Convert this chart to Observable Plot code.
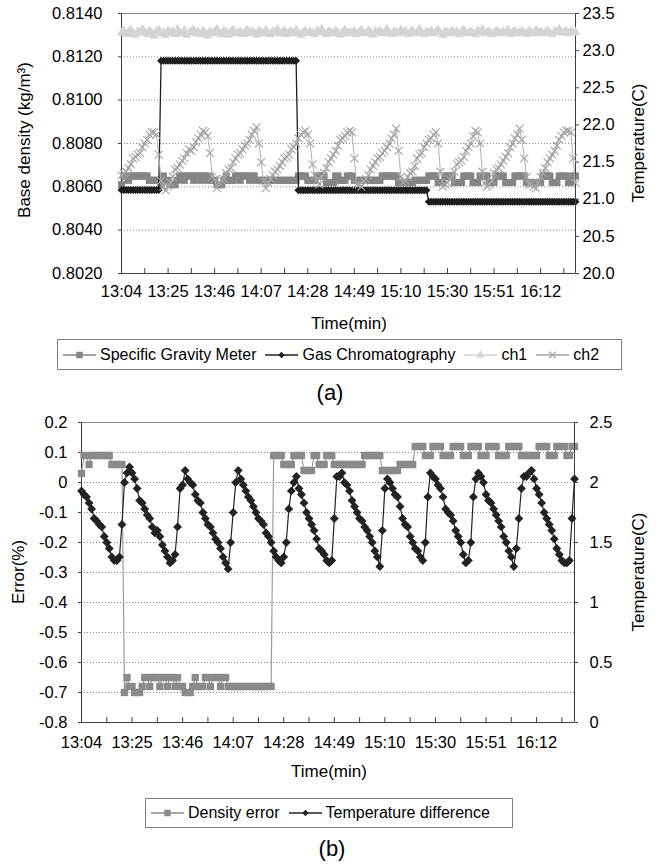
<!DOCTYPE html>
<html><head><meta charset="utf-8">
<script src="https://cdn.jsdelivr.net/npm/d3@7"></script>
<script src="https://cdn.jsdelivr.net/npm/@observablehq/plot@0.6"></script>
<style>
body{margin:0;background:#fff;font-family:"Liberation Sans",Arial,sans-serif;color:#000}
#wrap{position:relative;width:663px;height:867px;overflow:hidden;background:#fff}
.layer{position:absolute;left:0}
.rot{position:absolute;transform:translate(-50%,-50%) rotate(-90deg);white-space:nowrap;font-size:17px}
.ctr{position:absolute;transform:translate(-50%,-50%);white-space:nowrap;font-size:17px}
.legend{position:absolute;border:1px solid #7f7f7f;display:flex;align-items:center;box-sizing:border-box;font-size:16px;padding-left:5px;background:#fff}
.legend .it{display:flex;align-items:center;margin-right:9px;white-space:nowrap}
.legend svg{margin-right:4px;display:block}
</style></head><body><div id="wrap"></div>
<script>
// ---------- data (index = sample number, about one per minute from 13:04) ----------
const timeLabels = ["13:04","13:25","13:46","14:07","14:28","14:49","15:10","15:30","15:51","16:12"];
const labelIdx = [0,20,40,60,80,100,120,140,160,180];
const minorIdx = [0,10,20,30,40,50,60,70,80,90,100,110,120,130,140,150,160,170,180,190];
const densityTicks = [0.8020,0.8040,0.8060,0.8080,0.8100,0.8120,0.8140];
const tempTicksA = [20.0,20.5,21.0,21.5,22.0,22.5,23.0,23.5];
const errTicks = [-0.8,-0.7,-0.6,-0.5,-0.4,-0.3,-0.2,-0.1,0,0.1,0.2];
const tempTicksB = [0,0.5,1,1.5,2,2.5];

// Specific Gravity Meter (kg/m3)
const sgm = [
0.8061,0.8065,0.8065,0.8063,0.8065,0.8065,0.8065,0.8065,0.8065,0.8065,
0.8065,0.8065,0.8063,0.8063,0.8063,0.8063,0.8063,0.8061,0.8065,0.8063,
0.8063,0.8061,0.8061,0.8061,0.8063,0.8065,0.8065,0.8063,0.8065,0.8065,
0.8065,0.8063,0.8065,0.8065,0.8063,0.8065,0.8065,0.8063,0.8065,0.8063,
0.8063,0.8061,0.8061,0.8061,0.8063,0.8065,0.8063,0.8063,0.8063,0.8065,
0.8065,0.8063,0.8065,0.8065,0.8065,0.8063,0.8065,0.8065,0.8063,0.8063,
0.8063,0.8063,0.8063,0.8063,0.8063,0.8063,0.8063,0.8063,0.8063,0.8063,
0.8063,0.8063,0.8063,0.8063,0.8063,0.8063,0.8065,0.8065,0.8065,0.8065,
0.8063,0.8063,0.8063,0.8063,0.8065,0.8065,0.8065,0.8065,0.8062,0.8062,
0.8062,0.8062,0.8065,0.8065,0.8063,0.8063,0.8063,0.8065,0.8065,0.8065,
0.8063,0.8063,0.8063,0.8063,0.8063,0.8063,0.8063,0.8063,0.8063,0.8063,
0.8063,0.8063,0.8065,0.8065,0.8065,0.8065,0.8065,0.8065,0.8065,0.8062,
0.8062,0.8062,0.8062,0.8062,0.8062,0.8062,0.8063,0.8063,0.8063,0.8063,
0.8063,0.8063,0.8065,0.8065,0.8065,0.8065,0.8062,0.8062,0.8062,0.8065,
0.8065,0.8065,0.8065,0.8062,0.8062,0.8062,0.8062,0.8065,0.8065,0.8065,
0.8065,0.8062,0.8062,0.8062,0.8065,0.8065,0.8065,0.8065,0.8062,0.8062,
0.8062,0.8065,0.8065,0.8065,0.8065,0.8062,0.8062,0.8062,0.8062,0.8065,
0.8065,0.8065,0.8065,0.8065,0.8062,0.8062,0.8062,0.8062,0.8062,0.8062,
0.8062,0.8065,0.8065,0.8065,0.8065,0.8062,0.8062,0.8062,0.8065,0.8065,
0.8065,0.8065,0.8062,0.8062,0.8065,0.8065];

// Gas Chromatography (kg/m3)
const gc = [
0.80585,0.80585,0.80585,0.80585,0.80585,0.80585,0.80585,0.80585,0.80585,0.80585,
0.80585,0.80585,0.80585,0.80585,0.80585,0.80585,0.80585,0.81182,0.81182,0.81182,
0.81182,0.81182,0.81182,0.81182,0.81182,0.81182,0.81182,0.81182,0.81182,0.81182,
0.81182,0.81182,0.81182,0.81182,0.81182,0.81182,0.81182,0.81182,0.81182,0.81182,
0.81182,0.81182,0.81182,0.81182,0.81182,0.81182,0.81182,0.81182,0.81182,0.81182,
0.81182,0.81182,0.81182,0.81182,0.81182,0.81182,0.81182,0.81182,0.81182,0.81182,
0.81182,0.81182,0.81182,0.81182,0.81182,0.81182,0.81182,0.81182,0.81182,0.81182,
0.81182,0.81182,0.81182,0.81182,0.81182,0.81182,0.80584,0.80584,0.80584,0.80584,
0.80584,0.80584,0.80584,0.80584,0.80584,0.80584,0.80584,0.80584,0.80584,0.80584,
0.80584,0.80584,0.80584,0.80584,0.80584,0.80584,0.80584,0.80584,0.80584,0.80584,
0.80584,0.80584,0.80584,0.80584,0.80584,0.80584,0.80584,0.80584,0.80584,0.80584,
0.80584,0.80584,0.80584,0.80584,0.80584,0.80584,0.80584,0.80584,0.80584,0.80584,
0.80584,0.80584,0.80584,0.80584,0.80584,0.80584,0.80584,0.80584,0.80584,0.80584,
0.80584,0.80584,0.80531,0.80531,0.80531,0.80531,0.80531,0.80531,0.80531,0.80531,
0.80531,0.80531,0.80531,0.80531,0.80531,0.80531,0.80531,0.80531,0.80531,0.80531,
0.80531,0.80531,0.80531,0.80531,0.80531,0.80531,0.80531,0.80531,0.80531,0.80531,
0.80531,0.80531,0.80531,0.80531,0.80531,0.80531,0.80531,0.80531,0.80531,0.80531,
0.80531,0.80531,0.80531,0.80531,0.80531,0.80531,0.80531,0.80531,0.80531,0.80531,
0.80531,0.80531,0.80531,0.80531,0.80531,0.80531,0.80531,0.80531,0.80531,0.80531,
0.80531,0.80531,0.80531,0.80531,0.80531,0.80531];

// ch1 temperature (C)
const ch1 = [
23.24,23.27,23.22,23.25,23.28,23.23,23.21,23.26,23.24,23.29,
23.25,23.22,23.27,23.24,23.20,23.26,23.28,23.23,23.25,23.21,
23.27,23.24,23.26,23.22,23.29,23.25,23.23,23.27,23.21,23.24,
23.26,23.28,23.23,23.25,23.22,23.27,23.24,23.20,23.26,23.23,
23.25,23.29,23.24,23.22,23.27,23.25,23.21,23.26,23.28,23.23,
23.24,23.26,23.22,23.25,23.28,23.23,23.26,23.24,23.21,23.27,
23.25,23.23,23.28,23.24,23.22,23.26,23.25,23.29,23.23,23.24,
23.27,23.22,23.25,23.26,23.23,23.28,23.24,23.21,23.25,23.27,
23.23,23.26,23.24,23.22,23.27,23.25,23.29,23.24,23.22,23.26,
23.25,23.23,23.27,23.24,23.21,23.26,23.28,23.23,23.25,23.24,
23.26,23.22,23.25,23.28,23.24,23.23,23.27,23.25,23.21,23.26,
23.24,23.27,23.23,23.25,23.29,23.24,23.22,23.26,23.25,23.23,
23.28,23.24,23.26,23.22,23.25,23.27,23.23,23.24,23.29,23.25,
23.22,23.26,23.24,23.27,23.23,23.25,23.28,23.24,23.21,23.26,
23.25,23.23,23.27,23.24,23.26,23.22,23.25,23.28,23.24,23.23,
23.26,23.24,23.22,23.27,23.25,23.29,23.23,23.25,23.26,23.22,
23.24,23.27,23.25,23.23,23.26,23.24,23.28,23.22,23.25,23.27,
23.23,23.25,23.26,23.24,23.22,23.27,23.25,23.23,23.28,23.24,
23.26,23.23,23.25,23.27,23.24,23.22,23.26,23.25,23.29,23.24,
23.25,23.27,23.23,23.26,23.24,23.25];

// ch2 temperature (C)
const ch2 = [
21.32,21.35,21.37,21.42,21.47,21.55,21.57,21.60,21.62,21.70,
21.75,21.80,21.87,21.90,21.90,21.87,21.60,21.25,21.17,21.12,
21.17,21.22,21.30,21.40,21.42,21.47,21.52,21.55,21.62,21.67,
21.65,21.70,21.77,21.82,21.87,21.92,21.90,21.85,21.62,21.30,
21.27,21.15,21.22,21.25,21.27,21.35,21.40,21.42,21.50,21.55,
21.60,21.62,21.67,21.72,21.75,21.80,21.87,21.92,21.97,21.75,
21.50,21.25,21.15,21.22,21.27,21.32,21.37,21.40,21.45,21.50,
21.55,21.57,21.60,21.67,21.70,21.75,21.82,21.87,21.90,21.92,
21.87,21.75,21.47,21.32,21.25,21.20,21.30,21.35,21.42,21.50,
21.55,21.60,21.65,21.72,21.80,21.82,21.85,21.90,21.92,21.90,
21.55,21.20,21.20,21.17,21.25,21.27,21.32,21.40,21.45,21.50,
21.55,21.57,21.62,21.65,21.70,21.75,21.82,21.87,21.95,21.65,
21.30,21.22,21.25,21.30,21.35,21.37,21.45,21.55,21.60,21.62,
21.70,21.75,21.80,21.82,21.87,21.90,21.75,21.37,21.17,21.20,
21.22,21.27,21.30,21.37,21.47,21.50,21.52,21.57,21.65,21.70,
21.75,21.85,21.92,21.90,21.75,21.37,21.22,21.17,21.20,21.25,
21.35,21.40,21.42,21.47,21.52,21.57,21.62,21.70,21.75,21.82,
21.87,21.95,21.80,21.55,21.30,21.20,21.20,21.17,21.15,21.22,
21.30,21.35,21.42,21.50,21.55,21.60,21.65,21.72,21.80,21.85,
21.90,21.92,21.92,21.90,21.55,21.22];

// Density error (%)
const densErr = [
0.03,0.09,0.09,0.06,0.09,0.09,0.09,0.09,0.09,0.09,
0.09,0.09,0.06,0.06,0.06,0.06,0.06,-0.70,-0.65,-0.68,
-0.68,-0.70,-0.70,-0.70,-0.68,-0.65,-0.65,-0.68,-0.65,-0.65,
-0.65,-0.68,-0.65,-0.65,-0.68,-0.65,-0.65,-0.68,-0.65,-0.68,
-0.68,-0.70,-0.70,-0.70,-0.68,-0.65,-0.68,-0.68,-0.68,-0.65,
-0.65,-0.68,-0.65,-0.65,-0.65,-0.68,-0.65,-0.65,-0.68,-0.68,
-0.68,-0.68,-0.68,-0.68,-0.68,-0.68,-0.68,-0.68,-0.68,-0.68,
-0.68,-0.68,-0.68,-0.68,-0.68,-0.68,0.09,0.09,0.09,0.09,
0.06,0.06,0.06,0.06,0.09,0.09,0.09,0.09,0.04,0.04,
0.04,0.04,0.09,0.09,0.06,0.06,0.06,0.09,0.09,0.09,
0.06,0.06,0.06,0.06,0.06,0.06,0.06,0.06,0.06,0.06,
0.06,0.06,0.09,0.09,0.09,0.09,0.09,0.09,0.09,0.04,
0.04,0.04,0.04,0.04,0.04,0.04,0.06,0.06,0.06,0.06,
0.06,0.06,0.12,0.12,0.12,0.12,0.09,0.09,0.09,0.12,
0.12,0.12,0.12,0.09,0.09,0.09,0.09,0.12,0.12,0.12,
0.12,0.09,0.09,0.09,0.12,0.12,0.12,0.12,0.09,0.09,
0.09,0.12,0.12,0.12,0.12,0.09,0.09,0.09,0.09,0.12,
0.12,0.12,0.12,0.12,0.09,0.09,0.09,0.09,0.09,0.09,
0.09,0.12,0.12,0.12,0.12,0.09,0.09,0.09,0.12,0.12,
0.12,0.12,0.09,0.09,0.12,0.12];

// Temperature difference (C)
const tempDiff = [
1.93,1.90,1.88,1.83,1.78,1.70,1.68,1.65,1.63,1.55,
1.50,1.45,1.38,1.35,1.35,1.38,1.65,2.00,2.08,2.13,
2.08,2.03,1.95,1.85,1.83,1.78,1.73,1.70,1.63,1.58,
1.60,1.55,1.48,1.43,1.38,1.33,1.35,1.40,1.63,1.95,
1.98,2.10,2.03,2.00,1.98,1.90,1.85,1.83,1.75,1.70,
1.65,1.63,1.58,1.53,1.50,1.45,1.38,1.33,1.28,1.50,
1.75,2.00,2.10,2.03,1.98,1.93,1.88,1.85,1.80,1.75,
1.70,1.68,1.65,1.58,1.55,1.50,1.43,1.38,1.35,1.33,
1.38,1.50,1.78,1.93,2.00,2.05,1.95,1.90,1.83,1.75,
1.70,1.65,1.60,1.53,1.45,1.43,1.40,1.35,1.33,1.35,
1.70,2.05,2.05,2.08,2.00,1.98,1.93,1.85,1.80,1.75,
1.70,1.68,1.63,1.60,1.55,1.50,1.43,1.38,1.30,1.60,
1.95,2.03,2.00,1.95,1.90,1.88,1.80,1.70,1.65,1.63,
1.55,1.50,1.45,1.43,1.38,1.35,1.50,1.88,2.08,2.05,
2.03,1.98,1.95,1.88,1.78,1.75,1.73,1.68,1.60,1.55,
1.50,1.40,1.33,1.35,1.50,1.88,2.03,2.08,2.05,2.00,
1.90,1.85,1.83,1.78,1.73,1.68,1.63,1.55,1.50,1.43,
1.38,1.30,1.45,1.70,1.95,2.05,2.05,2.08,2.10,2.03,
1.95,1.90,1.83,1.75,1.70,1.65,1.60,1.53,1.45,1.40,
1.35,1.33,1.33,1.35,1.70,2.03];

// ---------- build ----------
const rows = sgm.map((v, i) => ({i, sgm: v, gc: gc[i], ch1: ch1[i], ch2: ch2[i], err: densErr[i], dT: tempDiff[i]}));
const N = rows.length - 1;
const FONT = '"Liberation Sans", Arial, sans-serif';
const AX = "#404040";
const C = {sgm: "#858585", gc: "#1e1e1e", ch1: "#d4d4d4", ch2: "#a4a4a4", err: "#8a8a8a", errLine: "#9c9c9c", dT: "#222222"};
const wrap = document.getElementById("wrap");
const sty = {fontFamily: FONT, fontSize: "16.5px", background: "transparent", color: "#000", overflow: "visible"};

function place(node, top) {
  const d = document.createElement("div");
  d.className = "layer"; d.style.top = top + "px";
  d.appendChild(node); wrap.appendChild(d);
}
function text(cls, str, x, y, extra) {
  const d = document.createElement("div");
  d.className = cls; d.textContent = str;
  d.style.left = x + "px"; d.style.top = y + "px";
  if (extra) Object.assign(d.style, extra);
  wrap.appendChild(d);
}

// ---- chart (a) ----
const A = {width: 663, height: 300, marginTop: 13, marginBottom: 27, marginLeft: 121, marginRight: 88};
const topA = Plot.plot({
  ...A, style: sty,
  x: {domain: [0, N]}, y: {domain: [0.802, 0.814]},
  marks: [
    Plot.gridY(densityTicks.slice(1, -1), {stroke: "#8a8a8a", strokeOpacity: 1, strokeDasharray: "1,2"}),
    Plot.frame({stroke: "#8c8c8c"}),
    Plot.ruleX([0], {stroke: AX}),
    Plot.ruleY([0.802], {stroke: AX}),
    Plot.tickX(minorIdx, {x: d => d, insetTop: 255, stroke: AX}),
    Plot.axisY(densityTicks, {anchor: "left", tickSize: 3, tickPadding: 16, stroke: AX, tickFormat: d => d.toFixed(4), label: null}),
    Plot.axisX(labelIdx, {anchor: "bottom", tickSize: 0, tickPadding: 12, tickFormat: d => timeLabels[labelIdx.indexOf(d)], label: null}),
    Plot.line(rows, {x: "i", y: "sgm", stroke: C.sgm, strokeWidth: 1.2}),
    Plot.dot(rows, {x: "i", y: "sgm", symbol: "square", r: 4, fill: C.sgm, stroke: "none"}),
    Plot.line(rows, {x: "i", y: "gc", stroke: C.gc, strokeWidth: 1.3}),
    Plot.dot(rows, {x: "i", y: "gc", symbol: "diamond2", r: 3.6, fill: C.gc, stroke: "none"})
  ]
});
const topB = Plot.plot({
  ...A, style: sty,
  x: {domain: [0, N], axis: null}, y: {domain: [20, 23.5]},
  marks: [
    Plot.ruleX([N], {stroke: AX}),
    Plot.axisY(tempTicksA, {anchor: "right", tickSize: 3, tickPadding: 4, stroke: AX, tickFormat: d => d.toFixed(1), label: null}),
    Plot.line(rows, {x: "i", y: "ch1", stroke: C.ch1, strokeWidth: 1}),
    Plot.dot(rows, {x: "i", y: "ch1", symbol: "triangle", r: 3.4, fill: C.ch1, stroke: "none"}),
    Plot.line(rows, {x: "i", y: "ch2", stroke: "#b0b0b0", strokeWidth: 1}),
    Plot.dot(rows, {x: "i", y: "ch2", symbol: "times", r: 3.7, stroke: C.ch2, strokeWidth: 1.1, fill: "none"})
  ]
});
place(topA, 0); place(topB, 0);

// ---- chart (b) ----
const B = {width: 663, height: 343, marginTop: 13, marginBottom: 30, marginLeft: 81, marginRight: 89};
const botA = Plot.plot({
  ...B, style: sty,
  x: {domain: [0, N]}, y: {domain: [-0.8, 0.2]},
  marks: [
    Plot.gridY(errTicks.slice(1, -1), {stroke: "#8a8a8a", strokeOpacity: 1, strokeDasharray: "1,2"}),
    Plot.frame({stroke: "#8c8c8c"}),
    Plot.ruleX([0], {stroke: AX}),
    Plot.ruleY([-0.8], {stroke: AX}),
    Plot.tickX(minorIdx, {x: d => d, insetTop: 295, stroke: AX}),
    Plot.axisY(errTicks, {anchor: "left", tickSize: 3, tickPadding: 11, stroke: AX, tickFormat: d => d === 0 ? "0" : d.toFixed(1), label: null}),
    Plot.axisX(labelIdx, {anchor: "bottom", tickSize: 0, tickPadding: 14, tickFormat: d => timeLabels[labelIdx.indexOf(d)], label: null}),
    Plot.line(rows, {x: "i", y: "err", stroke: C.errLine, strokeWidth: 1.2}),
    Plot.dot(rows, {x: "i", y: "err", symbol: "square", r: 4.1, fill: C.err, stroke: "none"})
  ]
});
const botB = Plot.plot({
  ...B, style: sty,
  x: {domain: [0, N], axis: null}, y: {domain: [0, 2.5]},
  marks: [
    Plot.ruleX([N], {stroke: AX}),
    Plot.axisY(tempTicksB, {anchor: "right", tickSize: 3, tickPadding: 12, stroke: AX, tickFormat: d => String(d), label: null}),
    Plot.line(rows, {x: "i", y: "dT", stroke: C.dT, strokeWidth: 1.2}),
    Plot.dot(rows, {x: "i", y: "dT", symbol: "diamond2", r: 4, fill: C.dT, stroke: "none"})
  ]
});
place(botA, 409); place(botB, 409);

// ---- titles ----
text("rot", "Base density (kg/m³)", 25, 140);
text("rot", "Temperature(C)", 639, 143);
text("ctr", "Time(min)", 349, 324);
text("ctr", "(a)", 330, 393, {fontSize: "22px"});
text("rot", "Error(%)", 19, 572);
text("rot", "Temperature(C)", 639, 572);
text("ctr", "Time(min)", 329, 772);
text("ctr", "(b)", 332, 849, {fontSize: "22px"});

// ---- legends ----
function glyph(color, type, size, strokeSym) {
  const svg = d3.create("svg").attr("width", 33).attr("height", 14);
  svg.append("line").attr("x1", 0).attr("x2", 33).attr("y1", 7).attr("y2", 7).attr("stroke", color).attr("stroke-width", 1.3);
  const p = svg.append("path").attr("transform", "translate(16.5,7)").attr("d", d3.symbol(type, size)());
  if (strokeSym) p.attr("fill", "none").attr("stroke", color).attr("stroke-width", 1.2);
  else p.attr("fill", color);
  return svg.node();
}
function legend(items, left, top, width, height) {
  const box = document.createElement("div");
  box.className = "legend";
  Object.assign(box.style, {left: left + "px", top: top + "px", width: width + "px", height: height + "px"});
  for (const it of items) {
    const s = document.createElement("span"); s.className = "it";
    s.appendChild(glyph(it.color, it.type, it.size, it.stroke));
    const t = document.createElement("span"); t.textContent = it.name; s.appendChild(t);
    box.appendChild(s);
  }
  wrap.appendChild(box);
}
legend([
  {name: "Specific Gravity Meter", color: C.sgm, type: d3.symbolSquare, size: 42},
  {name: "Gas Chromatography", color: C.gc, type: d3.symbolDiamond2, size: 26},
  {name: "ch1", color: C.ch1, type: d3.symbolTriangle, size: 30},
  {name: "ch2", color: C.ch2, type: d3.symbolTimes, size: 30, stroke: true}
], 57, 339, 565, 31);
legend([
  {name: "Density error", color: C.err, type: d3.symbolSquare, size: 42},
  {name: "Temperature difference", color: C.dT, type: d3.symbolDiamond2, size: 26}
], 145, 798, 368, 30);
</script></body></html>
